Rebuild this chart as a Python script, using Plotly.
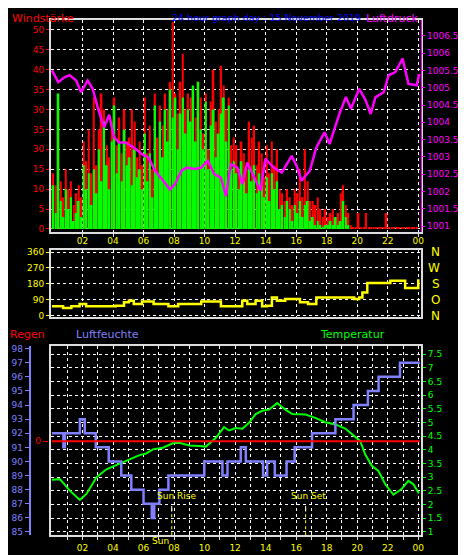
import plotly.graph_objects as go

# ---------------- data ----------------
HOUR_TICKS = [2, 4, 6, 8, 10, 12, 14, 16, 18, 20, 22, 24]
HOUR_LABELS = ["02", "04", "06", "08", "10", "12", "14", "16", "18", "20", "22", "00"]

WIND_TICKS = [0, 5, 10, 15, 20, 25, 30, 35, 40, 45, 50]
WIND_LABELS = ["0", "5", "10", "15", "30", "35", "30", "35", "40", "45", "50"]

# 10-minute wind speed (green) from 00:00
wind_speed = [
    11, 4, 34, 7, 3, 10,   5, 8, 2, 4, 7, 3,   16, 10, 14, 6, 15, 9,
    20, 12, 27, 16, 10, 22, 31, 14, 22, 12, 25, 16, 18, 11, 20, 13, 15, 10,
    24, 12, 19, 8, 31, 14, 27, 18, 30, 22, 35, 28, 33, 20, 29, 33, 24, 30,
    27, 36, 22, 37, 25, 20, 32, 15, 26, 30, 18, 24, 29, 33, 22, 31, 15, 17,
    14, 10, 17, 12, 9, 15, 12, 16, 9, 14, 11, 8, 13, 7, 14, 10, 12, 5,
    6, 3, 7, 5, 2, 6,   4, 7, 3, 6, 7, 2,   3, 1, 2, 1, 0.5, 1,
    1, 2, 1, 3, 1, 2,   7, 3, 1,
]
# 10-minute wind gusts (red) from 00:00
wind_gust = [
    14, 11, 30, 12, 8, 15,  10, 12, 6, 9, 11, 8,  22, 17, 25, 14, 33, 16,
    25, 34, 30, 21, 18, 27, 33, 21, 28, 19, 30, 22, 23, 30, 27, 18, 22, 16,
    33, 19, 26, 15, 34, 23, 31, 26, 34, 30, 37, 52, 34, 29, 37, 44, 30, 34,
    33, 35, 28, 37, 33, 24, 34, 20, 32, 40, 27, 30, 41, 36, 30, 33, 21, 23,
    21, 15, 22, 19, 15, 27, 23, 26, 16, 22, 19, 13, 21, 14, 22, 16, 20, 10,
    9, 7, 10, 8, 6, 10,  9, 15, 8, 20, 12, 7,  7, 6, 8, 5, 3, 5,
    3, 4, 5, 3, 4, 9,  11, 6, 4,
    1, 0.5, 0.5, 4, 0.5, 0.5, 4, 0.5, 0.5, 0.5, 0.5, 0.5, 0.5, 0.5, 4,
    0.5, 0.5, 0.5, 0.5, 0.5, 0.5, 0.5, 0.5, 0.5, 0.5, 0.5, 0.5,
]

press_hours = [0.0, 0.41, 0.84, 1.16, 1.59, 1.91, 2.34, 2.67, 2.99, 3.42, 3.75, 4.07, 4.39,
               4.82, 5.36, 5.9, 6.33, 6.76, 7.2, 7.73, 8.06, 8.49, 8.81, 9.35, 9.78, 10.21,
               10.64, 11.07, 11.4, 11.72, 12.15, 12.47, 12.8, 13.34, 13.66, 13.98, 14.52,
               15.06, 15.71, 16.03, 16.35, 16.89, 17.32, 17.86, 18.19, 18.51, 18.83, 19.26,
               19.59, 20.13, 20.56, 20.88, 21.2, 21.74, 22.06, 22.5, 22.97, 23.36, 23.9, 24.05]
pressure = [1005.50, 1005.16, 1005.31, 1005.36, 1005.21, 1004.87, 1005.21, 1004.97, 1004.44,
            1003.86, 1004.22, 1003.57, 1003.42, 1003.42, 1003.27, 1003.08, 1002.98, 1002.60,
            1002.36, 1002.06, 1002.21, 1002.60, 1002.69, 1002.65, 1002.69, 1002.89, 1002.50,
            1002.40, 1001.87, 1002.79, 1002.69, 1002.21, 1002.84, 1002.31, 1002.02, 1002.94,
            1002.69, 1002.55, 1003.03, 1002.74, 1002.31, 1002.60, 1003.27, 1003.71, 1003.37,
            1003.81, 1004.24, 1004.73, 1004.39, 1004.97, 1004.63, 1004.24, 1004.73, 1004.87,
            1005.36, 1005.45, 1005.84, 1005.11, 1005.07, 1005.40]

dir_hours = [0.0, 0.73, 1.27, 1.81, 2.24, 4.18, 4.72, 5.04, 5.36, 5.9, 6.66, 7.63, 8.27, 9.78,
             11.07, 12.15, 12.47, 12.8, 13.34, 13.77, 14.09, 14.41, 14.74, 15.28, 16.03, 16.25,
             16.78, 17.32, 19.59, 19.8, 20.13, 20.34, 20.66, 22.17, 23.03, 23.14, 24.0]
wind_dir = [52, 43, 52, 66, 52, 56, 75, 84, 66, 79, 66, 52, 66, 79, 52, 52, 84, 66, 84, 52,
            56, 103, 84, 94, 94, 75, 66, 103, 103, 94, 103, 131, 184, 197, 197, 156, 206]
DIR_TICKS = [0, 90, 180, 270, 360]
DIR_LETTERS = ["N", "O", "S", "W", "N"]

hum_hours = [0.0, 0.75, 0.85, 1.83, 2.15, 2.87, 3.72, 4.54, 5.2, 6.0, 6.54, 6.7, 7.04, 7.63,
             9.98, 11.17, 11.5, 12.37, 12.7, 13.83, 14.1, 14.6, 15.37, 15.9, 17.04, 18.57,
             19.76, 20.7, 21.4, 22.8, 24.1]
humidity = [92, 91, 92, 93, 92, 91, 90, 89, 88, 87, 86, 87, 88, 89, 90, 89, 90, 91, 90, 89,
            90, 89, 90, 91, 92, 93, 94, 95, 96, 97, 97]

temp_hours = [0.0, 0.52, 1.17, 1.83, 2.26, 2.91, 3.57, 4.22, 4.87, 5.74, 6.17, 6.61, 7.26,
              7.91, 8.35, 9.0, 9.65, 10.09, 10.74, 11.28, 11.61, 12.04, 12.48, 12.91, 13.35,
              13.78, 14.22, 14.76, 15.30, 15.74, 16.61, 17.26, 17.91, 18.57, 19.22, 19.76,
              20.2, 20.52, 20.96, 21.39, 21.83, 22.37, 22.91, 23.35, 23.67, 24.04]
temperature = [2.91, 2.93, 2.51, 2.17, 2.39, 2.99, 3.29, 3.45, 3.62, 3.81, 3.87, 4.02, 4.08,
               4.24, 4.26, 4.16, 4.14, 4.12, 4.44, 4.83, 4.71, 4.80, 4.77, 4.99, 5.31, 5.43,
               5.47, 5.71, 5.47, 5.31, 5.29, 5.17, 5.01, 4.93, 4.78, 4.54, 4.32, 3.84, 3.42,
               3.23, 2.75, 2.36, 2.57, 2.87, 2.75, 2.41]

rain_hours = [0.0, 24.1]
rain = [0, 0]

SUN_RISE = 7.85
SUN_SET = 16.62

# ---------------- figure ----------------
W, H = 466, 555
def py(p):  # pixel row -> paper y
    return 1 - p / H
def px(p):
    return p / W

FONT = "DejaVu Sans"
YEL = "#ffff00"
RED = "#ff0000"
MAG = "#ff00ff"
BLU = "#8080ff"
GRN = "#00ff00"
GRID = dict(showgrid=True, gridcolor="#ffffff", griddash="dot", gridwidth=1)
FRAME = dict(showline=True, linecolor="#dddddd", linewidth=1.5, mirror=True)
XR = [-0.08, 24.2]

bin_x = [i / 6 + 1 / 12 for i in range(len(wind_gust))]
fig = go.Figure()
fig.add_bar(x=bin_x, y=wind_gust, marker_color=RED, marker_line_width=0,
            width=0.11, xaxis="x", yaxis="y")
fig.add_bar(x=bin_x[:len(wind_speed)], y=wind_speed, marker_color=GRN,
            marker_line_width=0, width=0.13, xaxis="x", yaxis="y")
fig.add_scatter(x=press_hours, y=pressure, mode="lines", line=dict(color=MAG, width=2.5),
                xaxis="x", yaxis="y2")
fig.add_scatter(x=dir_hours, y=wind_dir, mode="lines", line=dict(color=YEL, width=2.5, shape="hv"),
                xaxis="x2", yaxis="y3")
fig.add_scatter(x=rain_hours, y=rain, mode="lines", line=dict(color=RED, width=2),
                xaxis="x3", yaxis="y6")
fig.add_scatter(x=hum_hours, y=humidity, mode="lines", line=dict(color=BLU, width=2.5, shape="hv"),
                xaxis="x3", yaxis="y4")
fig.add_scatter(x=temp_hours, y=temperature, mode="lines", line=dict(color=GRN, width=2),
                xaxis="x3", yaxis="y5")

xdom = [px(43), px(416)]
tickf = lambda c: dict(family=FONT, size=9, color=c)
fig.update_layout(
    width=W, height=H, margin=dict(l=0, r=0, t=0, b=0),
    paper_bgcolor="black", plot_bgcolor="black", showlegend=False, barmode="overlay",
    xaxis=dict(domain=xdom, range=XR, anchor="y", tickvals=HOUR_TICKS, showticklabels=False,
               ticks="outside", ticklen=3, tickcolor="#dddddd",
               zeroline=False, **GRID, **FRAME),
    yaxis=dict(domain=[py(224), py(10)], range=[-0.75, 52.5], tickvals=WIND_TICKS,
               ticktext=WIND_LABELS, tickfont=tickf(RED), ticks="outside", ticklen=3,
               tickcolor=RED, zeroline=False, **GRID, **FRAME),
    yaxis2=dict(overlaying="y", side="right", range=[1000.83, 1006.96],
                tickvals=[1001, 1001.5, 1002, 1002.5, 1003, 1003.5, 1004, 1004.5, 1005, 1005.5, 1006, 1006.5],
                ticktext=["1001", "1001.5", "1002", "1002.5", "1003", "1003.5", "1004", "1004.5",
                          "1005", "1005.5", "1006", "1006.5"],
                tickfont=tickf(MAG), ticks="outside", ticklen=3, tickcolor=MAG,
                showgrid=False, zeroline=False, showline=True, linecolor=MAG),
    xaxis2=dict(domain=xdom, range=XR, anchor="y3", side="top", tickvals=HOUR_TICKS,
                ticktext=HOUR_LABELS, tickfont=tickf(YEL), ticks="", zeroline=False,
                **GRID, **FRAME),
    yaxis3=dict(domain=[py(310), py(241.7)], range=[-9.5, 374.6], tickvals=DIR_TICKS,
                tickfont=tickf(YEL), ticks="outside", ticklen=3, tickcolor=YEL,
                zeroline=False, **GRID, **FRAME),
    xaxis3=dict(domain=xdom, range=XR, anchor="y5", tickvals=list(range(1, 25)),
                ticktext=["" if h % 2 else ("00" if h == 24 else "%02d" % h) for h in range(1, 25)],
                tickfont=tickf(YEL), ticks="outside", ticklen=3, tickcolor="#dddddd",
                zeroline=False, **GRID, **FRAME),
    yaxis5=dict(domain=[py(530), py(339)], anchor="x3", side="right", range=[0.88, 7.8],
                tickvals=[1, 1.5, 2, 2.5, 3, 3.5, 4, 4.5, 5, 5.5, 6, 6.5, 7, 7.5],
                ticktext=["1", "1.5", "2", "2.5", "3", "3.5", "4", "4.5", "5", "5.5", "6", "6.5", "7", "7.5"],
                tickfont=tickf(GRN), ticks="outside", ticklen=3, tickcolor=GRN,
                zeroline=False, **GRID, **FRAME),
    yaxis4=dict(overlaying="y5", anchor="free", position=px(22), side="left",
                range=[84.77, 98.19], dtick=1, tickfont=tickf(BLU), ticks="outside",
                ticklen=4, tickcolor=BLU, showline=True, linecolor=BLU, linewidth=2,
                showgrid=False, zeroline=False),
    yaxis6=dict(overlaying="y5", anchor="free", position=px(40), side="left",
                range=[-0.985, 1.0], tickvals=[0], tickfont=tickf(RED), ticks="outside",
                ticklen=5, tickcolor=RED, showline=False, showgrid=False, zeroline=False),
)

titlef = lambda c, s=11: dict(family=FONT, size=s, color=c)
ann = [
    dict(x=px(2), y=py(0), text="Windstärke", font=titlef(RED), xanchor="left"),
    dict(x=px(260), y=py(0), text="24 hour graph day : 15 November 2019", font=titlef("#0000ff", 9.5), xanchor="center"),
    dict(x=px(415), y=py(0), text="Luftdruck", font=titlef(MAG), xanchor="right"),
    dict(x=px(0), y=py(319), text="Regen", font=titlef(RED), xanchor="left"),
    dict(x=px(66), y=py(319), text="Luftfeuchte", font=titlef(BLU), xanchor="left"),
    dict(x=px(312), y=py(319), text="Temperatur", font=titlef(GRN), xanchor="left"),
]
for a in ann:
    a.update(xref="paper", yref="paper", yanchor="top", showarrow=False)
    fig.add_annotation(**a)
for v, t in zip(DIR_TICKS, DIR_LETTERS):
    fig.add_annotation(x=px(437), y=v, xref="paper", yref="y3", text=t, showarrow=False,
                       font=dict(family=FONT, size=12, color=YEL))
for hx, txt in [(SUN_RISE, "Sun Rise"), (SUN_SET, "Sun Set")]:
    fig.add_annotation(x=hx, y=2.05, xref="x3", yref="y5", text=txt, showarrow=False,
                       yanchor="bottom", xanchor="left", xshift=-17,
                       font=dict(family=FONT, size=9, color=YEL))
    fig.add_shape(type="line", xref="x3", yref="y5", x0=hx, x1=hx, y0=0.88, y1=1.95,
                  line=dict(color=YEL, width=1, dash="dot"))
    fig.add_shape(type="line", xref="x3", yref="y5", x0=hx, x1=hx, y0=1.75, y1=1.95,
                  line=dict(color="white", width=1))
fig.add_annotation(x=SUN_RISE, y=py(543), xref="x3", yref="paper", text="Sun", showarrow=False,
                   xanchor="right", xshift=-1, font=dict(family=FONT, size=9, color=YEL))

fig.write_html("out.html")
